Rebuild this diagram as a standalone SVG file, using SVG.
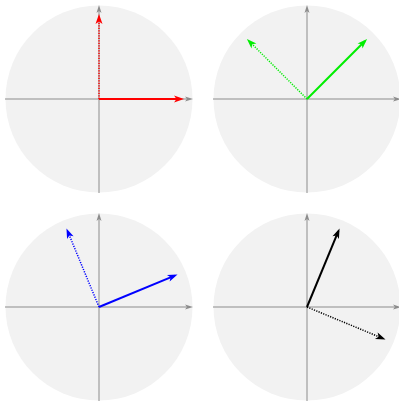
<svg xmlns="http://www.w3.org/2000/svg" width="399" height="402" viewBox="0 0 399 402">
<style>
.disc{fill:#f2f2f2;stroke:none}
.axis{stroke:#8c8c8c;stroke-width:1;fill:none;marker-end:url(#ax)}
.solid{stroke-width:2;fill:none}
.dot{stroke-width:1.5;fill:none;stroke-dasharray:1.2 1.3}
</style>
<defs>
<marker id="ax" markerUnits="userSpaceOnUse" markerWidth="8" markerHeight="5" refX="5" refY="2.5" orient="auto" overflow="visible"><path d="M0,0 L8,2.5 L0,5 L2,2.5z" fill="#8c8c8c"/></marker>
<marker id="mr" markerUnits="userSpaceOnUse" markerWidth="10" markerHeight="7" refX="7" refY="3.5" orient="auto" overflow="visible"><path d="M0,0 L10,3.5 L0,7 L2.5,3.5z" fill="#ff0000"/></marker>
<marker id="mg" markerUnits="userSpaceOnUse" markerWidth="10" markerHeight="7" refX="7" refY="3.5" orient="auto" overflow="visible"><path d="M0,0 L10,3.5 L0,7 L2.5,3.5z" fill="#00ee00"/></marker>
<marker id="mb" markerUnits="userSpaceOnUse" markerWidth="10" markerHeight="7" refX="7" refY="3.5" orient="auto" overflow="visible"><path d="M0,0 L10,3.5 L0,7 L2.5,3.5z" fill="#0000ff"/></marker>
<marker id="mk" markerUnits="userSpaceOnUse" markerWidth="10" markerHeight="7" refX="7" refY="3.5" orient="auto" overflow="visible"><path d="M0,0 L10,3.5 L0,7 L2.5,3.5z" fill="#000000"/></marker>
</defs>
<g id="panel-tl">
<circle class="disc" cx="99" cy="99" r="93.5"/>
<line class="axis" x1="5" y1="99" x2="190" y2="99"/>
<line class="axis" x1="99" y1="193" x2="99" y2="8"/>
<line class="dot" stroke="#ff0000" x1="99" y1="99" x2="99" y2="17" marker-end="url(#mr)"/>
<line class="solid" stroke="#ff0000" x1="99" y1="99" x2="181" y2="99" marker-end="url(#mr)"/>
</g>
<g id="panel-tr">
<circle class="disc" cx="307" cy="99" r="93.5"/>
<line class="axis" x1="213" y1="99" x2="398" y2="99"/>
<line class="axis" x1="307" y1="193" x2="307" y2="8"/>
<line class="dot" stroke="#00ee00" x1="307" y1="99" x2="249.02" y2="41.02" marker-end="url(#mg)"/>
<line class="solid" stroke="#00ee00" x1="307" y1="99" x2="364.98" y2="41.02" marker-end="url(#mg)"/>
</g>
<g id="panel-bl">
<circle class="disc" cx="99" cy="307" r="93.5"/>
<line class="axis" x1="5" y1="307" x2="190" y2="307"/>
<line class="axis" x1="99" y1="401" x2="99" y2="216"/>
<line class="dot" stroke="#0000ff" x1="99" y1="307" x2="67.62" y2="231.24" marker-end="url(#mb)"/>
<line class="solid" stroke="#0000ff" x1="99" y1="307" x2="174.76" y2="275.62" marker-end="url(#mb)"/>
</g>
<g id="panel-br">
<circle class="disc" cx="307" cy="307" r="93.5"/>
<line class="axis" x1="213" y1="307" x2="398" y2="307"/>
<line class="axis" x1="307" y1="401" x2="307" y2="216"/>
<line class="dot" stroke="#000000" x1="307" y1="307" x2="382.76" y2="338.38" marker-end="url(#mk)"/>
<line class="solid" stroke="#000000" x1="307" y1="307" x2="338.38" y2="231.24" marker-end="url(#mk)"/>
</g>
</svg>
